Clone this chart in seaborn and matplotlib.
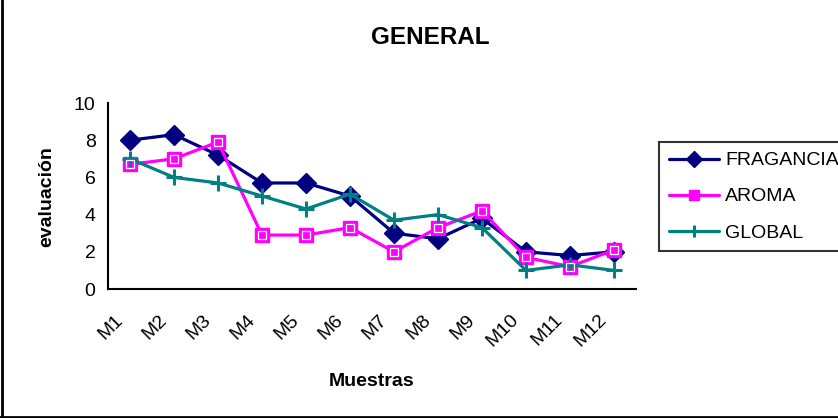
import matplotlib
matplotlib.use("Agg")
import matplotlib.pyplot as plt
import matplotlib.transforms as mtransforms
from matplotlib.lines import Line2D
import seaborn as sns
import pandas as pd

muestras = ["M1", "M2", "M3", "M4", "M5", "M6", "M7", "M8", "M9", "M10", "M11", "M12"]
fragancia = [8.0, 8.3, 7.2, 5.7, 5.7, 5.0, 3.0, 2.7, 3.8, 2.0, 1.8, 2.0]
aroma = [6.7, 7.0, 7.9, 2.9, 2.9, 3.3, 2.0, 3.3, 4.2, 1.7, 1.2, 2.1]
global_ = [7.0, 6.0, 5.7, 5.0, 4.3, 5.1, 3.7, 4.0, 3.3, 1.0, 1.3, 1.0]
series_names = ["FRAGANCIA", "AROMA", "GLOBAL"]
y_ticks = [0, 2, 4, 6, 8, 10]

sns.set_style("white")
plt.rcParams["font.family"] = ["Liberation Sans", "DejaVu Sans"]
for key in ["text.color", "axes.labelcolor", "xtick.color", "ytick.color"]:
    plt.rcParams[key] = "black"

W, H = 838, 418
fig = plt.figure(figsize=(W / 100, H / 100), dpi=100)
fig.patch.set_facecolor("white")

x0, x1, y0, y1 = 108, 636, 289, 103
ax = fig.add_axes([x0 / W, 1 - y0 / H, (x1 - x0) / W, (y0 - y1) / H])
ax.set_facecolor("white")

styles = {
    "FRAGANCIA": dict(color="#000080", marker="D", markersize=10.5, markerfacecolor="#000080",
                      markeredgecolor="#000080", markeredgewidth=1),
    "AROMA": dict(color="#FF00FF", marker="s", markersize=10.5, markerfacecolor="#FF00FF",
                  markeredgecolor="#FF00FF", markeredgewidth=1),
    "GLOBAL": dict(color="#008080", marker="+", markersize=12, markeredgecolor="#008080",
                   markeredgewidth=2.2),
}
legend_marker_sizes = {"FRAGANCIA": 8, "AROMA": 6.5, "GLOBAL": 9}

values = {"FRAGANCIA": fragancia, "AROMA": aroma, "GLOBAL": global_}
for name in series_names:
    df = pd.DataFrame({"Muestras": muestras, "valor": values[name]})
    st = styles[name]
    sns.lineplot(data=df, x="Muestras", y="valor", ax=ax, color=st["color"], linewidth=2.3,
                 marker=st["marker"], markersize=st["markersize"],
                 markerfacecolor=st.get("markerfacecolor", st["color"]),
                 markeredgecolor=st["markeredgecolor"], markeredgewidth=st["markeredgewidth"],
                 label=name, sort=False, legend=False)

# white inner outline on the square markers
ax.plot(range(len(muestras)), aroma, linestyle="none", marker="s", markersize=5.5,
        markerfacecolor="none", markeredgecolor="white", markeredgewidth=0.9)

ax.set_xlim(-0.5, len(muestras) - 0.5)
ax.set_ylim(0, 10)
ax.set_yticks(y_ticks)
ax.set_yticklabels([str(v) for v in y_ticks], fontsize=14)

# category labels at centres, tick marks at category boundaries
ax.set_xticks(range(len(muestras)))
ax.set_xticks([i - 0.5 for i in range(len(muestras) + 1)], minor=True)
ax.tick_params(axis="x", which="major", length=0, pad=16)
ax.tick_params(axis="x", which="minor", length=6, width=1.5, direction="out", color="black")
ax.tick_params(axis="y", which="major", length=5, width=1.5, direction="out", color="black", pad=4)
ax.set_xticklabels(muestras, fontsize=14, rotation=45, ha="right", rotation_mode="anchor")
offset = mtransforms.ScaledTranslation(-16 / 100, 0, fig.dpi_scale_trans)
for lbl in ax.get_xticklabels():
    lbl.set_transform(lbl.get_transform() + offset)

for side in ["top", "right"]:
    ax.spines[side].set_visible(False)
for side in ["left", "bottom"]:
    ax.spines[side].set_color("black")
    ax.spines[side].set_linewidth(1.5)

ax.set_xlabel("")
ax.set_ylabel("")
fig.text(372 / W, 1 - 381 / H, "Muestras", fontsize=14, fontweight="bold",
         ha="center", va="center")
fig.text(47 / W, 1 - 197 / H, "evaluación", fontsize=14, fontweight="bold",
         ha="center", va="center", rotation=90)
fig.text(430 / W, 1 - 37 / H, "GENERAL", fontsize=17.5, fontweight="bold",
         ha="center", va="center")

handles = [Line2D([0], [0], color=styles[n]["color"], linewidth=2.3, marker=styles[n]["marker"],
                  markersize=legend_marker_sizes[n],
                  markerfacecolor=styles[n].get("markerfacecolor", styles[n]["color"]),
                  markeredgecolor=styles[n]["markeredgecolor"],
                  markeredgewidth=styles[n]["markeredgewidth"]) for n in series_names]
leg = fig.legend(handles, series_names, loc="upper left",
                 bbox_to_anchor=(659 / W, 1 - 142 / H), fontsize=14, frameon=True,
                 fancybox=False, edgecolor="black", handlelength=2.6, handletextpad=0.3,
                 labelspacing=0.95, borderpad=0.5, borderaxespad=0)
leg.get_frame().set_linewidth(1.5)

# chart-area border on the left and bottom edges
fig.add_artist(Line2D([1.5 / W, 1.5 / W], [0, 1], color="black", linewidth=2,
                      transform=fig.transFigure))
fig.add_artist(Line2D([0, 1], [1.5 / H, 1.5 / H], color="black", linewidth=2,
                      transform=fig.transFigure))

fig.savefig("out.png", dpi=100, facecolor="white")
